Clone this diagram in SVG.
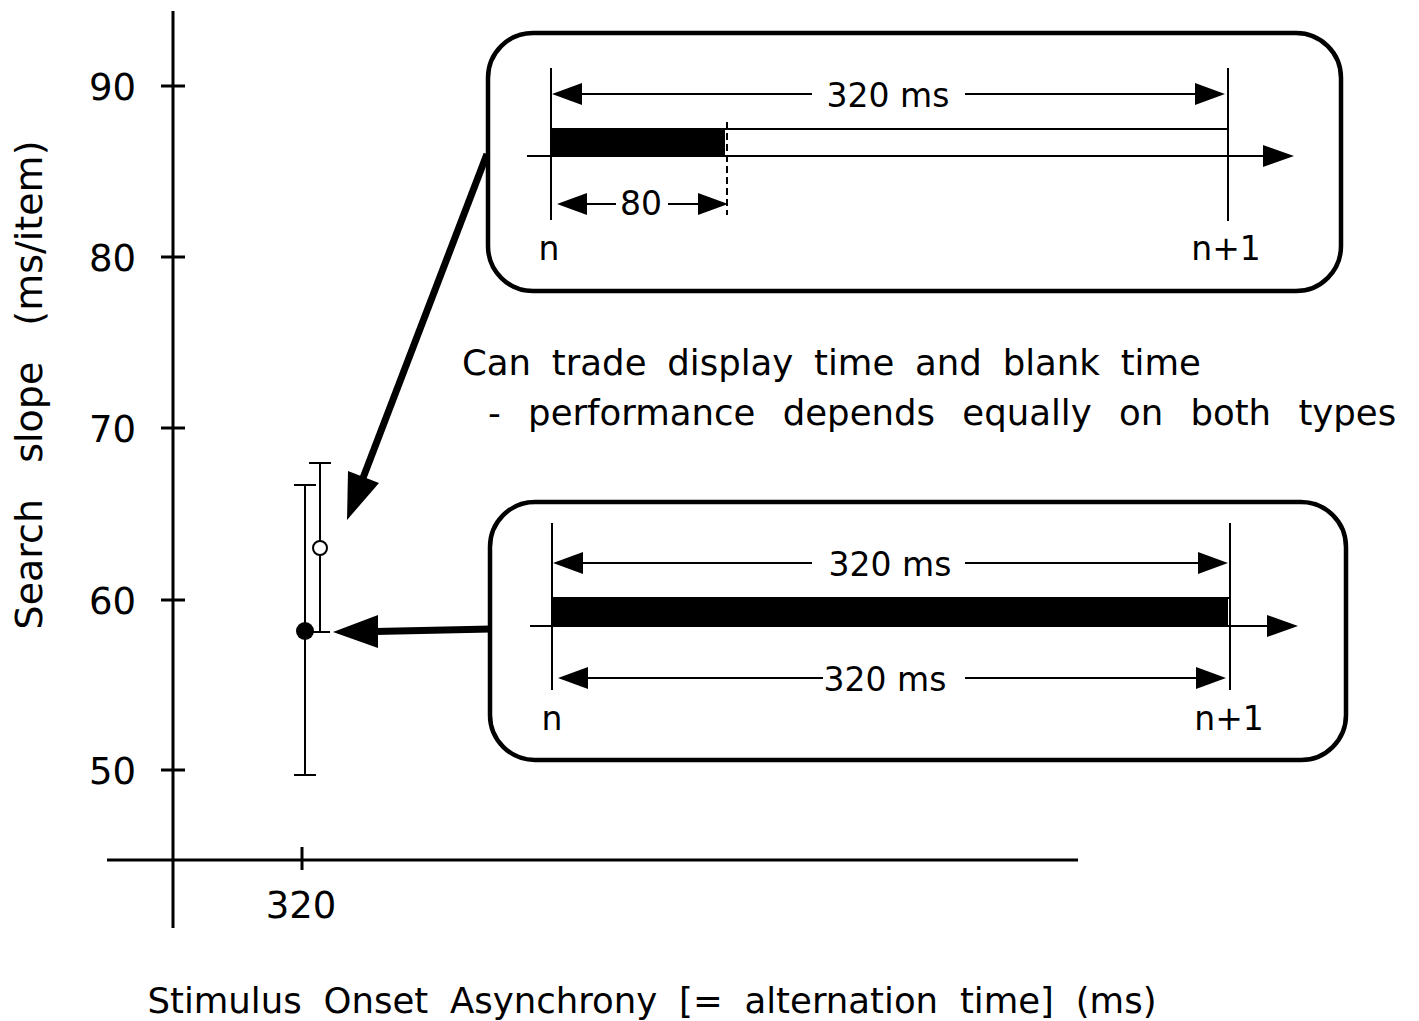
<svg xmlns="http://www.w3.org/2000/svg" width="1419" height="1021" viewBox="0 0 1419 1021">
<style>
text{font-family:"DejaVu Sans","Liberation Sans",Arial,sans-serif;fill:#000}
.ax{stroke:#000;stroke-width:3;fill:none}
.thin{stroke:#000;stroke-width:2;fill:none}
.box{stroke:#000;stroke-width:4.5;fill:#fff}
.num{font-size:37px}
.lbl{font-size:33px}
.cap{font-size:35.5px}
.ah{fill:#000}
</style>
<rect width="1419" height="1021" fill="#fff"/>
<g id="axes">
<line class="ax" x1="173" y1="11" x2="173" y2="928"/>
<line class="ax" x1="107" y1="860" x2="1078" y2="860"/>
<line class="ax" x1="161" y1="86" x2="185" y2="86"/>
<line class="ax" x1="161" y1="257" x2="185" y2="257"/>
<line class="ax" x1="161" y1="428" x2="185" y2="428"/>
<line class="ax" x1="161" y1="600" x2="185" y2="600"/>
<line class="ax" x1="161" y1="770" x2="185" y2="770"/>
<line class="ax" x1="302" y1="847" x2="302" y2="870"/>
<text class="num" x="136" y="100" text-anchor="end">90</text>
<text class="num" x="136" y="271" text-anchor="end">80</text>
<text class="num" x="136" y="442" text-anchor="end">70</text>
<text class="num" x="136" y="614" text-anchor="end">60</text>
<text class="num" x="136" y="784" text-anchor="end">50</text>
<text class="num" x="301" y="918" text-anchor="middle">320</text>
<text transform="translate(42,385) rotate(-90)" text-anchor="middle" font-size="38" word-spacing="24">Search slope (ms/item)</text>
<text class="cap" x="652" y="1013" text-anchor="middle" word-spacing="10.5">Stimulus Onset Asynchrony [= alternation time] (ms)</text>
</g>
<g id="data">
<line class="thin" x1="305" y1="485" x2="305" y2="775"/>
<line class="thin" x1="294" y1="485" x2="316" y2="485"/>
<line class="thin" x1="294" y1="775" x2="316" y2="775"/>
<circle cx="305" cy="631" r="9" fill="#000"/>
<line class="thin" x1="320" y1="463" x2="320" y2="632"/>
<line class="thin" x1="309" y1="463" x2="331" y2="463"/>
<line class="thin" x1="313" y1="632" x2="330" y2="632"/>
<circle cx="320" cy="548" r="7" fill="#fff" stroke="#000" stroke-width="2"/>
</g>
<g id="box-top">
<rect class="box" x="488" y="33" width="853" height="258" rx="45"/>
<line class="thin" x1="551" y1="68" x2="551" y2="220"/>
<line class="thin" x1="1228" y1="68" x2="1228" y2="221"/>
<line class="thin" x1="527" y1="156" x2="1265" y2="156"/>
<polygon class="ah" points="1294,156 1263,145 1263,167"/>
<rect x="551" y="128" width="174" height="28" fill="#000"/>
<line class="thin" x1="725" y1="129" x2="1228" y2="129"/>
<line x1="727" y1="122" x2="727" y2="215" stroke="#000" stroke-width="2" stroke-dasharray="7,4"/>
<line class="thin" x1="575" y1="94" x2="812" y2="94"/>
<line class="thin" x1="965" y1="94" x2="1200" y2="94"/>
<polygon class="ah" points="552,94 582,83 582,105"/>
<polygon class="ah" points="1225,94 1195,83 1195,105"/>
<text class="lbl" x="888" y="107" text-anchor="middle">320 ms</text>
<line class="thin" x1="580" y1="204" x2="616" y2="204"/>
<line class="thin" x1="668" y1="204" x2="700" y2="204"/>
<polygon class="ah" points="557,204 587,193 587,215"/>
<polygon class="ah" points="728,204 698,193 698,215"/>
<text class="lbl" x="641" y="215" text-anchor="middle">80</text>
<text class="lbl" x="549" y="260" text-anchor="middle">n</text>
<text class="lbl" x="1226" y="260" text-anchor="middle">n+1</text>
</g>
<g id="caption">
<text class="cap" x="462" y="375" word-spacing="9.5">Can trade display time and blank time</text>
<text class="cap" x="488" y="425" word-spacing="16">- performance depends equally on both types</text>
</g>
<g id="box-bottom">
<rect class="box" x="490" y="502" width="856" height="258" rx="45"/>
<line class="thin" x1="552" y1="523" x2="552" y2="690"/>
<line class="thin" x1="1230" y1="523" x2="1230" y2="690"/>
<line class="thin" x1="530" y1="626" x2="1268" y2="626"/>
<polygon class="ah" points="1298,626 1267,615 1267,637"/>
<polygon points="553,597 1228,599 1228,627 553,625" fill="#000"/>
<line class="thin" x1="553" y1="598" x2="1230" y2="598"/>
<line class="thin" x1="578" y1="563" x2="812" y2="563"/>
<line class="thin" x1="965" y1="563" x2="1200" y2="563"/>
<polygon class="ah" points="553,563 583,552 583,574"/>
<polygon class="ah" points="1228,563 1198,552 1198,574"/>
<text class="lbl" x="890" y="576" text-anchor="middle">320 ms</text>
<line class="thin" x1="583" y1="678" x2="823" y2="678"/>
<line class="thin" x1="965" y1="678" x2="1200" y2="678"/>
<polygon class="ah" points="558,678 588,667 588,689"/>
<polygon class="ah" points="1226,678 1196,667 1196,689"/>
<text class="lbl" x="885" y="691" text-anchor="middle">320 ms</text>
<text class="lbl" x="552" y="730" text-anchor="middle">n</text>
<text class="lbl" x="1229" y="730" text-anchor="middle">n+1</text>
</g>
<g id="connectors">
<line x1="487" y1="154" x2="363" y2="478" stroke="#000" stroke-width="7"/>
<polygon class="ah" points="347,520 348,471 379,483"/>
<line x1="491" y1="629" x2="375" y2="631.5" stroke="#000" stroke-width="7"/>
<polygon class="ah" points="333,632 378,615 378,648"/>
</g>
</svg>
